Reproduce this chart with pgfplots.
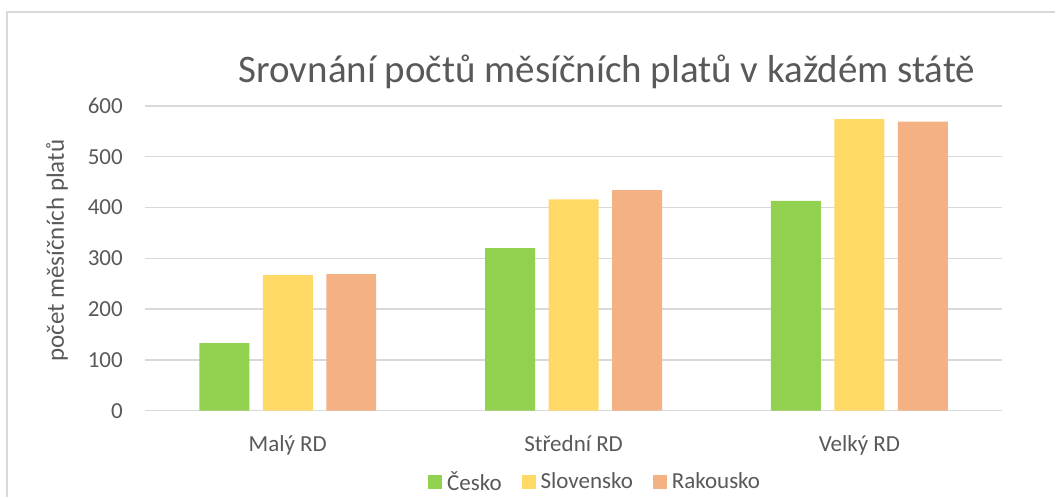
\documentclass[border=0pt]{standalone}
\usepackage{fontspec}
\setmainfont{Carlito}
\usepackage{pgfplots}
\pgfplotsset{compat=1.18}
\definecolor{cesko}{HTML}{92D050}
\definecolor{slovensko}{HTML}{FFD966}
\definecolor{rakousko}{HTML}{F4B183}
\definecolor{txt}{HTML}{595959}
\definecolor{grd}{HTML}{D9D9D9}
\begin{document}
\begin{tikzpicture}
\begin{axis}[
    at={(0,0)}, anchor=south west,
    scale only axis,
    width=858bp, height=305bp,
    ybar=13.5bp,
    bar width=50bp,
    xmin=-0.5, xmax=2.5,
    ymin=0, ymax=600,
    enlargelimits=false,
    xtick={0,1,2},
    xticklabels={Malý RD, Střední RD, Velký RD},
    ytick={0,100,...,600},
    ymajorgrids,
    grid style={grd, line width=1.5bp},
    axis line style={draw=none},
    tick style={draw=none},
    font=\fontsize{23bp}{27bp}\selectfont,
    every tick label/.append style={text=txt},
    /pgf/number format/assume math mode=true,
    yticklabel style={anchor=east, inner sep=0pt, xshift=-22bp},
    xticklabel style={anchor=base, inner sep=0pt, yshift=-37bp},
    ylabel={počet měsíčních platů},
    ylabel style={at={(axis description cs:-0.1026,0.525)}, anchor=center, text=txt,
        font=\fontsize{25bp}{29bp}\selectfont},
    title={Srovnání počtů měsíčních platů v každém státě},
    title style={at={(axis description cs:0.539,1.056)}, anchor=base, text=txt,
        font=\fontsize{39bp}{43bp}\selectfont},
    legend columns=-1,
    legend style={at={(axis description cs:0.5245,-0.233)}, anchor=center,
        draw=none, text=txt, font=\fontsize{23bp}{27bp}\selectfont,
        nodes={inner sep=1bp},
        /tikz/every even column/.append style={column sep=19bp}},
    legend image code/.code={\fill[#1] (0bp,-7bp) rectangle (14bp,7bp); \path (18bp,0bp);},
]
\addplot[fill=cesko, draw=none] coordinates {(0,133) (1,320) (2,413)};
\addplot[fill=slovensko, draw=none] coordinates {(0,267) (1,416) (2,574)};
\addplot[fill=rakousko, draw=none] coordinates {(0,269) (1,434) (2,569)};
\legend{Česko, Slovensko, Rakousko}
\end{axis}
\draw[grd, line width=1.5bp] (-138bp,-86bp) -- (-138bp,399bp) -- (911bp,399bp);
\path[use as bounding box] (-145bp,-86bp) rectangle (911bp,411bp);
\end{tikzpicture}
\end{document}
